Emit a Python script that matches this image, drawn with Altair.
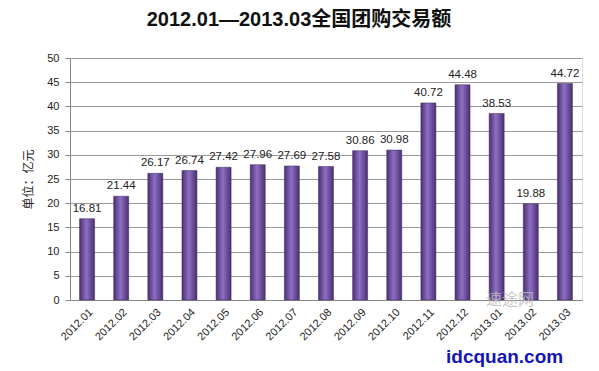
import altair as alt
import pandas as pd

months = ["2012.01", "2012.02", "2012.03", "2012.04", "2012.05", "2012.06", "2012.07",
          "2012.08", "2012.09", "2012.10", "2012.11", "2012.12", "2013.01", "2013.02", "2013.03"]
values = [16.81, 21.44, 26.17, 26.74, 27.42, 27.96, 27.69, 27.58, 30.86, 30.98,
          40.72, 44.48, 38.53, 19.88, 44.72]
y_ticks = [0, 5, 10, 15, 20, 25, 30, 35, 40, 45, 50]

df = pd.DataFrame({"month": months, "value": values})
df["label"] = [f"{v:.2f}" for v in values]

FONT = "Liberation Sans, Noto Sans CJK SC"

grad = alt.Gradient(
    gradient="linear", x1=0, x2=1, y1=0, y2=0,
    stops=[
        alt.GradientStop(offset=0, color="#4a3070"),
        alt.GradientStop(offset=0.45, color="#8e6fc4"),
        alt.GradientStop(offset=1, color="#4a3070"),
    ],
)

x_enc = alt.X(
    "month:N", sort=months, title=None,
    scale=alt.Scale(paddingInner=0.56, paddingOuter=0.28),
    axis=alt.Axis(labelAngle=-45, labelFontSize=11, labelColor="#222", labelFont=FONT,
                  ticks=False, labelPadding=6, domainColor="#888", grid=False),
)
y_enc = alt.Y(
    "value:Q", title="单位：亿元",
    scale=alt.Scale(domain=[0, 50], nice=False),
    axis=alt.Axis(values=y_ticks, labelOverlap=False, labelFontSize=11,
                  labelColor="#222", labelFont=FONT, tickSize=5, tickColor="#888",
                  labelPadding=6, domainColor="#888", gridColor="#9a9a9a",
                  titleFont="Noto Sans CJK SC", titleFontSize=12,
                  titleFontWeight="normal", titleColor="#222", titlePadding=11),
)

bars = alt.Chart(df).mark_bar(color=grad, stroke="#3d2860", strokeWidth=0.5).encode(
    x=x_enc, y=y_enc
)

labels = alt.Chart(df).mark_text(
    baseline="bottom", dy=-5, fontSize=11.5, color="#222", font=FONT
).encode(x=x_enc, y=y_enc, text="label:N")

wm_df = pd.DataFrame({"t": ["idcquan.com"]})
wm = alt.Chart(wm_df).mark_text(
    align="left", baseline="alphabetic", fontSize=19, fontWeight="bold",
    color="#1414b8", font="Liberation Sans"
).encode(x=alt.value(376), y=alt.value(305), text="t:N")

wm2_df = pd.DataFrame({"t": ["速途网"]})
wm2 = alt.Chart(wm2_df).mark_text(
    align="left", baseline="alphabetic", fontSize=16, color="#bbbbbb", opacity=0.8,
    font="Noto Sans CJK SC"
).encode(x=alt.value(416), y=alt.value(247), text="t:N")

chart = alt.layer(bars, labels, wm2, wm).properties(
    width=512, height=242,
    title=alt.TitleParams(
        "2012.01—2013.03全国团购交易额", fontSize=20, fontWeight="bold", font=FONT,
        anchor="middle", dx=-27, offset=22, color="#111",
    ),
    autosize=alt.AutoSizeParams(type="none"),
    padding={"left": 62, "top": 50, "right": 9, "bottom": 71},
).configure_view(stroke=None).configure(background="white")

chart.save("out.html", embed_options={"renderer": "svg", "actions": False})
